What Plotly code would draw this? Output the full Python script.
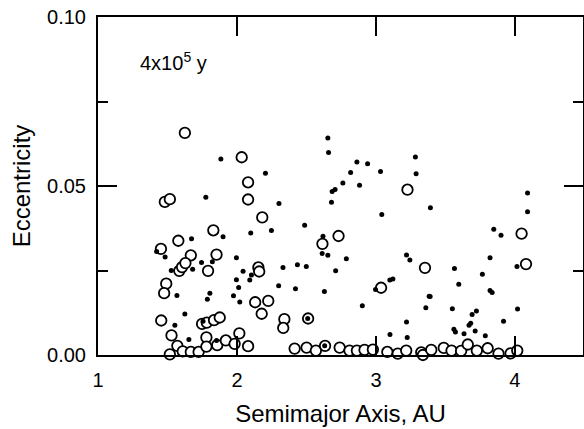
import plotly.graph_objects as go

# Filled dots: semimajor axis (AU) and eccentricity
dot_a = [1.884, 2.205, 1.776, 2.302, 2.099, 2.248, 1.900, 1.673, 1.422, 1.483,
         1.996, 1.745, 1.823, 1.527, 1.681, 2.044, 2.331, 1.996, 2.092, 2.104,
         2.012, 2.300, 1.568, 1.805, 1.787, 1.975, 2.020, 1.625, 1.553, 1.756,
         1.654, 1.853,
         2.654, 2.659, 2.863, 2.940, 2.818, 3.033, 3.284, 3.289, 2.762, 2.882,
         2.685, 2.706, 2.680, 3.042, 3.392, 4.091, 4.091, 2.487, 2.619, 2.613,
         2.654, 2.787, 2.710, 2.435, 2.499, 2.421, 2.629, 2.902, 3.848, 3.900,
         3.821, 4.015, 3.220, 3.244, 3.565, 3.596, 3.766, 3.821, 3.836, 2.997,
         3.100, 3.122, 3.383, 3.390, 3.359, 3.550, 4.019, 3.692, 3.723, 3.918,
         3.670, 3.682, 3.220, 3.561, 3.572, 3.634, 3.714, 3.787, 3.101, 3.225,
         2.509, 2.631]
dot_e = [0.0580, 0.0538, 0.0467, 0.0448, 0.0361, 0.0368, 0.0350, 0.0344, 0.0306, 0.0290,
         0.0288, 0.0274, 0.0276, 0.0250, 0.0254, 0.0248, 0.0259, 0.0223, 0.0222, 0.0237,
         0.0200, 0.0205, 0.0176, 0.0183, 0.0165, 0.0175, 0.0157, 0.0121, 0.0088, 0.0100,
         0.0046, 0.0043,
         0.0642, 0.0599, 0.0571, 0.0566, 0.0540, 0.0543, 0.0586, 0.0536, 0.0509, 0.0502,
         0.0484, 0.0490, 0.0452, 0.0416, 0.0436, 0.0479, 0.0424, 0.0384, 0.0351, 0.0300,
         0.0295, 0.0285, 0.0249, 0.0267, 0.0262, 0.0196, 0.0188, 0.0146, 0.0372, 0.0354,
         0.0288, 0.0262, 0.0296, 0.0281, 0.0256, 0.0209, 0.0239, 0.0191, 0.0185, 0.0194,
         0.0222, 0.0225, 0.0174, 0.0173, 0.0140, 0.0137, 0.0136, 0.0120, 0.0130, 0.0100,
         0.0088, 0.0094, 0.0098, 0.0076, 0.0068, 0.0063, 0.0071, 0.0057, 0.0061, 0.0052,
         0.0108, 0.0027]

# Open circles: semimajor axis (AU) and eccentricity
circ_a = [1.625, 2.034, 2.080, 1.481, 1.517, 2.080, 2.182, 1.830, 1.578, 1.453,
          1.668, 1.853, 1.585, 1.605, 1.629, 1.792, 2.154, 2.160, 1.491, 1.476,
          2.131, 2.225, 2.178, 2.341, 2.333, 1.455, 1.749, 1.783, 1.835, 1.876,
          1.529, 1.780, 2.017,
          1.517, 1.571, 1.610, 1.668, 1.724, 1.780, 1.858, 1.920, 1.983, 2.080,
          2.415, 2.501, 2.568, 2.634, 2.739, 2.810, 2.863, 2.918, 2.978, 3.082,
          3.157, 3.218, 3.326, 3.338, 3.398, 3.488, 3.544, 3.613, 3.661, 3.726,
          3.804, 3.882, 3.969, 4.017,
          3.227, 2.615, 2.731, 3.353, 3.037, 4.048, 4.080, 2.512]
circ_e = [0.0657, 0.0585, 0.0511, 0.0453, 0.0461, 0.0460, 0.0407, 0.0369, 0.0338, 0.0314,
          0.0295, 0.0297, 0.0249, 0.0260, 0.0272, 0.0249, 0.0259, 0.0247, 0.0211, 0.0183,
          0.0156, 0.0160, 0.0122, 0.0106, 0.0080, 0.0102, 0.0092, 0.0096, 0.0103, 0.0111,
          0.0058, 0.0052, 0.0064,
          0.0002, 0.0027, 0.0011, 0.0009, 0.0009, 0.0025, 0.0029, 0.0043, 0.0033, 0.0026,
          0.0019, 0.0022, 0.0013, 0.0027, 0.0022, 0.0013, 0.0013, 0.0015, 0.0016, 0.0009,
          0.0004, 0.0013, 0.0008, 0.0000, 0.0015, 0.0021, 0.0013, 0.0012, 0.0031, 0.0013,
          0.0020, 0.0004, 0.0005, 0.0013,
          0.0489, 0.0329, 0.0352, 0.0258, 0.0199, 0.0359, 0.0269, 0.0108]

x_ticks = [1, 2, 3, 4]
y_ticks = [0.00, 0.05, 0.10]
y_tick_labels = ["0.00", "0.05", "0.10"]

FONT = "Arial, Liberation Sans, sans-serif"

fig = go.Figure()
fig.add_trace(go.Scatter(
    x=circ_a, y=circ_e, mode="markers", cliponaxis=False,
    marker=dict(symbol="circle", size=10.5, color="white",
                line=dict(color="black", width=1.8)),
    showlegend=False))
fig.add_trace(go.Scatter(
    x=dot_a, y=dot_e, mode="markers", cliponaxis=False,
    marker=dict(symbol="circle", size=5, color="black", line=dict(width=0)),
    showlegend=False))

axis_common = dict(
    showline=True, linecolor="black", linewidth=2, mirror="ticks",
    ticks="inside", ticklen=19, tickwidth=1.5, tickcolor="black",
    showgrid=False, zeroline=False, automargin=False,
    tickfont=dict(family=FONT, size=20, color="black"),
)

fig.update_xaxes(range=[1, 4.49], tickvals=x_ticks, ticktext=[str(v) for v in x_ticks],
                 title=dict(text="Semimajor Axis, AU", font=dict(family=FONT, size=24, color="black"),
                            standoff=15),
                 ticklabelstandoff=6,
                 **axis_common)
fig.update_yaxes(range=[0, 0.1], tickvals=y_ticks, ticktext=y_tick_labels,
                 title=dict(text="Eccentricity", font=dict(family=FONT, size=24, color="black"),
                            standoff=10),
                 ticklabelstandoff=6,
                 minor=dict(tickvals=[0.025, 0.075], ticks="inside", ticklen=10,
                            tickwidth=1.5, tickcolor="black"),
                 **axis_common)

fig.add_annotation(text="4x10<sup>5</sup> y", xref="paper", yref="paper",
                   x=0.082, y=0.867, xanchor="left", yanchor="middle", showarrow=False,
                   font=dict(family=FONT, size=20, color="black"))

fig.update_layout(width=584, height=429, margin=dict(l=98, r=1, t=17, b=74),
                  plot_bgcolor="white", paper_bgcolor="white")

fig.write_html("out.html", config={"displayModeBar": False},
               post_script="document.body.style.margin='0px';")
